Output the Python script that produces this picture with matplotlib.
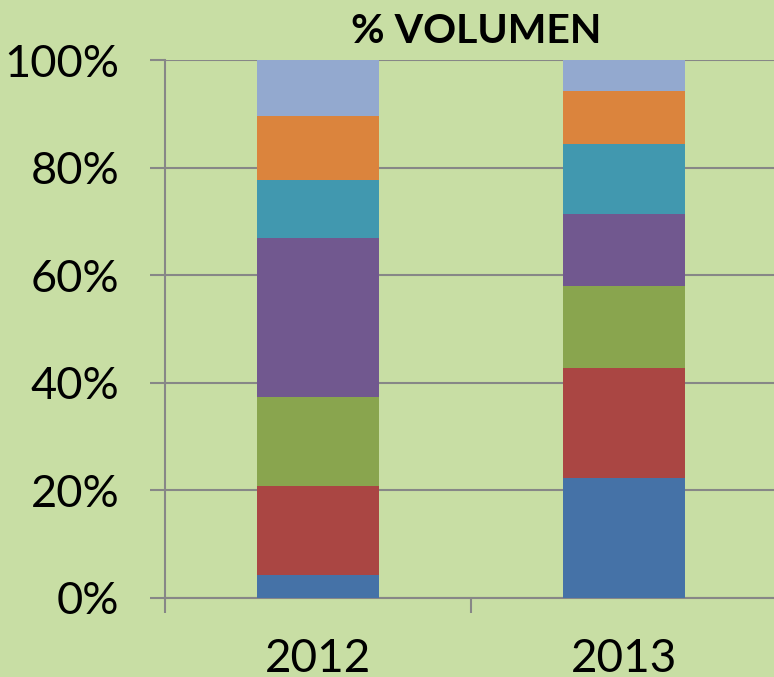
import matplotlib
matplotlib.use("Agg")
import matplotlib.pyplot as plt
import numpy as np

categories = ["2012", "2013"]
series_colors = ["#4572A7", "#AA4643", "#89A54E", "#71588F", "#4198AF", "#DB843D", "#93A9CF"]
s1 = [4.2, 22.4]
s2 = [16.6, 20.4]
s3 = [16.6, 15.3]
s4 = [29.6, 13.4]
s5 = [10.8, 12.9]
s6 = [11.9, 9.8]
s7 = [10.3, 5.8]
series = [s1, s2, s3, s4, s5, s6, s7]
yticks = [0, 20, 40, 60, 80, 100]
ytick_labels = ["0%", "20%", "40%", "60%", "80%", "100%"]

bg = "#C8DEA4"
grid_c = "#878787"
plt.rcParams['font.family'] = ['Lato', 'DejaVu Sans']

fig = plt.figure(figsize=(7.74, 6.77), dpi=100, facecolor=bg)
ax = fig.add_axes([165/774, 79/677, 612/774, 537.7/677])
ax.set_facecolor(bg)

x = np.arange(len(categories))
bottom = np.zeros(len(categories))
for vals, c in zip(series, series_colors):
    ax.bar(x, vals, width=0.4, bottom=bottom, color=c, edgecolor='none', zorder=3)
    bottom += np.array(vals)

ax.set_xlim(-0.5, 1.5)
ax.set_ylim(0, 100)
ax.set_yticks(yticks)
ax.set_yticklabels(ytick_labels, fontsize=32.5)
ax.yaxis.grid(True, color=grid_c, linewidth=1.5, zorder=1)
ax.tick_params(axis='y', length=11, width=1.5, color=grid_c, pad=22, labelcolor='black')

ax.set_xticks([-0.5, 0.5, 1.5])
ax.set_xticklabels([])
ax.set_xticks(x, minor=True)
ax.set_xticklabels(categories, minor=True, fontsize=33)
ax.tick_params(axis='x', which='major', length=11, width=1.5, color=grid_c)
ax.tick_params(axis='x', which='minor', length=0, pad=29)

for s in ['top', 'right']:
    ax.spines[s].set_visible(False)
for s in ['left', 'bottom']:
    ax.spines[s].set_color(grid_c)
    ax.spines[s].set_linewidth(1.5)

fig.text(476/774, 1 - 43/677, "% VOLUMEN", fontsize=29.5, fontweight='bold',
         ha='center', va='baseline')

fig.savefig("out.png", dpi=100, facecolor=bg)
